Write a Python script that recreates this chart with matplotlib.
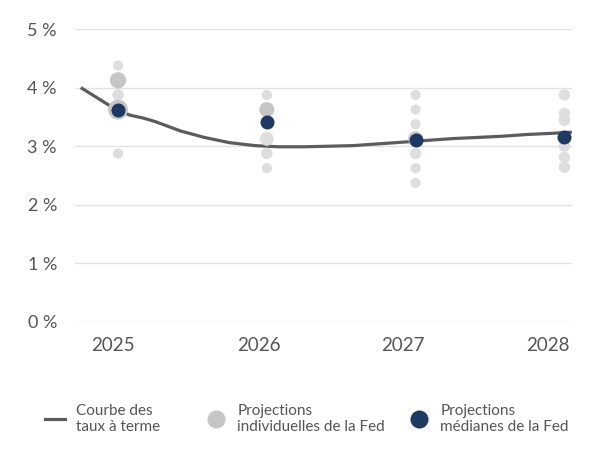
import numpy as np
import matplotlib as mpl
mpl.use('Agg')
import matplotlib.pyplot as plt
from matplotlib.lines import Line2D

plt.rcParams['font.family'] = ['Lato', 'DejaVu Sans']

# forward rate curve (year, %)
curve_x = [2024.75, 2024.92, 2025.0, 2025.08, 2025.17, 2025.25, 2025.42, 2025.58,
           2025.75, 2025.92, 2026.08, 2026.25, 2026.42, 2026.58, 2026.75, 2026.92,
           2027.08, 2027.25, 2027.42, 2027.58, 2027.75, 2027.92, 2028.05]
curve_y = [4.00, 3.73, 3.61, 3.53, 3.48, 3.42, 3.26, 3.15,
           3.06, 3.01, 2.99, 2.99, 3.00, 3.01, 3.04, 3.07,
           3.10, 3.13, 3.15, 3.17, 3.20, 3.22, 3.24]

# individual Fed projections: year, rate, number of participants
ind_year = [2025, 2025, 2025, 2025, 2025,
            2026, 2026, 2026, 2026, 2026,
            2027, 2027, 2027, 2027, 2027, 2027, 2027,
            2028, 2028, 2028, 2028, 2028, 2028, 2028]
ind_rate = [4.375, 4.125, 3.875, 3.625, 2.875,
            3.875, 3.625, 3.125, 2.875, 2.625,
            3.875, 3.625, 3.375, 3.125, 2.875, 2.625, 2.375,
            3.875, 3.56, 3.44, 3.15, 3.0, 2.81, 2.64]
ind_count = [1, 6, 2, 9, 1,
             1, 5, 4, 2, 1,
             1, 1, 1, 5, 2, 1, 1,
             2, 2, 2, 2, 2, 2, 2]

# median projections
med_year = [2025, 2026, 2027, 2028]
med_rate = [3.625, 3.42, 3.11, 3.15]

year_labels = ['2025', '2026', '2027', '2028']
year_label_pos = [2024.967, 2025.948, 2026.916, 2027.89]

text_col = '#555555'
grid_col = '#e2e2e2'
line_col = '#5c5c5c'
navy = '#1e3962'
light_gray = '#dedede'
dark_gray = '#c6c6c6'

################################################################################

fig = plt.figure(figsize=(6, 4.58), dpi=100)
ax = fig.add_axes([75 / 600, 1 - 322 / 458, 497 / 600, 293 / 458])

ax.set_xlim(2024.711, 2028.051)
ax.set_ylim(0, 5)

for v in range(6):
    ax.axhline(v, color=grid_col, lw=1, zorder=0)

ax.plot(curve_x, curve_y, color=line_col, lw=2.3, zorder=2,
        solid_capstyle='butt', solid_joinstyle='round')

counts = np.array(ind_count)
diam_px = 9 + 1.2 * counts
sizes = (diam_px * 0.72) ** 2
colors = [dark_gray if c >= 5 else light_gray for c in ind_count]
ax.scatter(ind_year, ind_rate, s=sizes, c=colors, linewidths=0,
           zorder=3, clip_on=False)

ax.scatter(med_year, med_rate, s=(14 * 0.72) ** 2, color=navy,
           linewidths=0, zorder=4, clip_on=False)

ax.set_yticks(range(6))
ax.set_yticklabels([f'{v} %' for v in range(6)])
ax.set_xticks(year_label_pos)
ax.set_xticklabels(year_labels)
ax.tick_params(axis='y', length=0, pad=13, labelsize=13, labelcolor=text_col)
ax.tick_params(axis='x', length=0, pad=11, labelsize=13.5, labelcolor=text_col)

for s in ax.spines.values():
    s.set_visible(False)

# legend entries
handles = [
    Line2D([], [], color=line_col, lw=2.3),
    Line2D([], [], ls='none', marker='o', markersize=13,
           markerfacecolor=dark_gray, markeredgewidth=0),
    Line2D([], [], ls='none', marker='o', markersize=13,
           markerfacecolor=navy, markeredgewidth=0),
]
labels = ['Courbe des\ntaux à terme',
          'Projections\nindividuelles de la Fed',
          'Projections\nmédianes de la Fed']
starts = [45, 206, 409]
for h, lab, x0 in zip(handles, labels, starts):
    fig.legend([h], [lab], loc='center left',
               bbox_to_anchor=(x0 / 600, 1 - 419 / 458),
               frameon=False, borderpad=0, borderaxespad=0,
               handlelength=1.3, handletextpad=0.75,
               fontsize=11, labelcolor=text_col)

fig.savefig('out.png', dpi=100)
